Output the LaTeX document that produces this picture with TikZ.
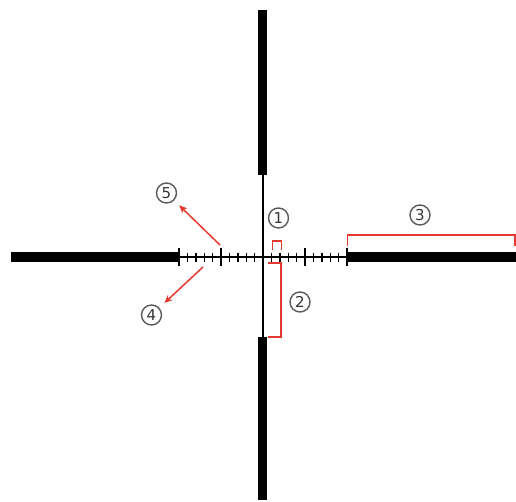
\documentclass[tikz,border=0pt]{standalone}
\usepackage{fontspec}
\setmainfont{DejaVu Sans}
\usetikzlibrary{arrows.meta, positioning}
\definecolor{cred}{HTML}{E5392E}
\definecolor{cgrey}{HTML}{5A5A5A}
\definecolor{cink}{HTML}{333333}
\tikzset{
  post/.style={line width=9.5pt},
  hair/.style={line width=2.2pt},
  tick/.style={line width=1.4pt},
  bracket/.style={draw=cred, line width=1.5pt},
  arrow/.style={-{Stealth[length=8pt, width=7pt]}, draw=cred, line width=1.5pt, shorten >=7pt},
  num/.style={circle, draw=cgrey, line width=1.4pt, inner sep=0pt, minimum size=20pt,
    font=\fontsize{15}{15}\selectfont, text=cink},
}

\begin{document}
\begin{tikzpicture}[x=1pt, y=-1pt]
  \useasboundingbox (0,0) rectangle (516,501);
  % posts
  \draw[post] (262.5,10) -- (262.5,175);
  \draw[post] (262.5,337) -- (262.5,500);
  \draw[post] (11,257) -- (179,257);
  \draw[post] (347,257) -- (516,257);
  % hairlines
  \draw[hair] (263,175) -- (263,337);
  \draw[hair] (179,257) -- (347,257);
  % ticks
  \foreach \i in {-10,...,-1,1,2,...,10} {
    \pgfmathsetmacro{\h}{ifthenelse(mod(abs(\i),5)==0, 9, 4.5)}
    \draw[tick] (263+8.4*\i, 257-\h) -- (263+8.4*\i, 257+\h);
  }
  % labels
  \node[num] (n1) at (278.5,218) {1};
  \node[num] (n2) at (300,302) {2};
  \node[num] (n3) at (420,215) {3};
  \node[num] (n4) at (151.5,315) {4};
  \node[num] (n5) at (166.5,193) {5};
  % brackets
  \draw[bracket] (272.5,250) -- (272.5,241) -- (281.5,241) -- (281.5,250);
  \draw[bracket] (268,263) -- (281,263) -- (281,337) -- (268,337);
  \draw[bracket] (347.5,246) -- (347.5,235) -- (515,235) -- (515,246);
  % arrows
  \coordinate (t5) at (220,245);
  \coordinate (t4) at (203,267);
  \draw[arrow] (t5) -- (n5);
  \draw[arrow] (t4) -- (n4);
\end{tikzpicture}
\end{document}
